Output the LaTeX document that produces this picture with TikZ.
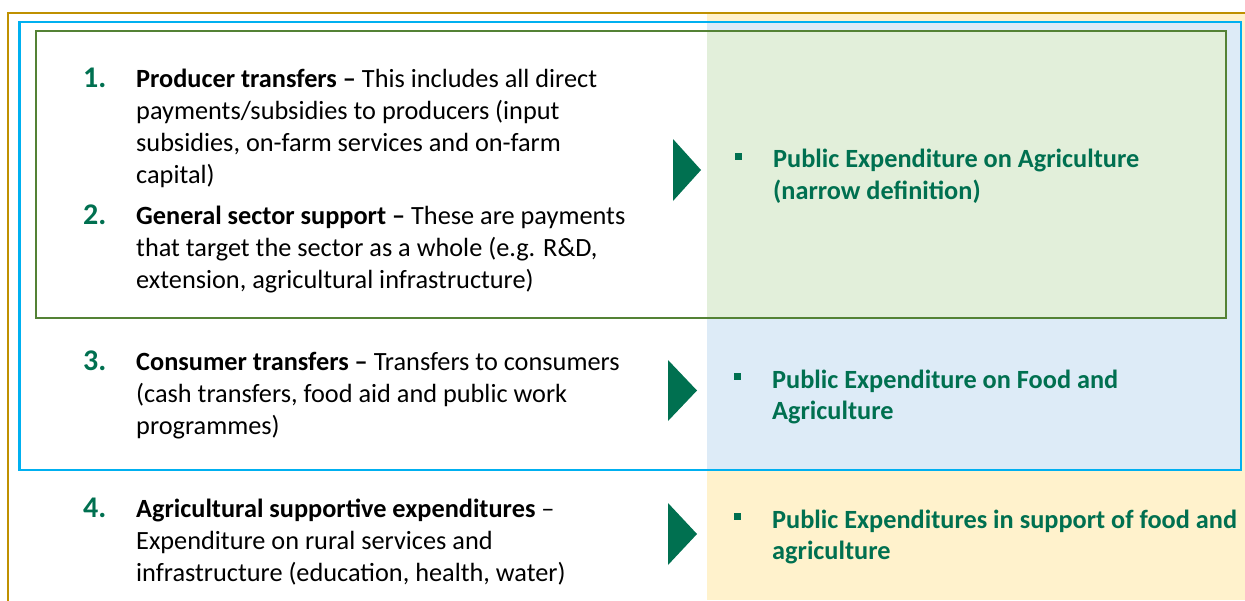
\documentclass[tikz,border=0pt]{standalone}
\usepackage{fontspec}
\setmainfont{Carlito}
\definecolor{goldline}{RGB}{191,144,0}
\definecolor{skyline}{RGB}{0,176,240}
\definecolor{leafline}{RGB}{84,130,53}
\definecolor{leaffill}{RGB}{226,239,218}
\definecolor{skyfill}{RGB}{221,235,247}
\definecolor{sandfill}{RGB}{255,242,204}
\definecolor{fao}{RGB}{0,112,80}
\begin{document}
\begin{tikzpicture}[x=1pt,y=-1pt,
  % multi-line nodes are placed by the baseline of their last line
  item/.style={anchor=base west, inner sep=0pt, align=left,
    font=\fontsize{26.3}{32}\selectfont, text=black},
  num/.style={anchor=base west, inner sep=0pt,
    font=\fontsize{30}{32}\selectfont\bfseries, text=fao},
  result/.style={anchor=base west, inner sep=0pt, align=left,
    font=\fontsize{26.3}{31.5}\selectfont\bfseries, text=fao},
  bulletbox/.style={fill=fao, minimum size=7pt, inner sep=0pt},
  pointer/.style={fill=fao}]
\useasboundingbox (0,0) rectangle (1245,600);

% tinted result column
\fill[sandfill] (707,14) rectangle (1245,600);
\fill[skyfill] (707,22) rectangle (1241,470);
\fill[leaffill] (707,31) rectangle (1226,318);

% nested frames
\draw[goldline, line width=2pt] (7.5,605) -- (7.5,13) -- (1250,13);
\draw[skyline, line width=2.8pt] (19.5,22) rectangle (1241,470);
\draw[leafline, line width=2.3pt] (36,31) rectangle (1226,318);

% numbered components
\node[num] (n1) at (83,87.5) {1.};
\node[num] (n2) at (83,224.5) {2.};
\node[num] (n3) at (83,370.5) {3.};
\node[num] (n4) at (83,517.5) {4.};

\node[item] (t1) at (136,183.5) {\textbf{Producer transfers –} This includes all direct\\
  payments/subsidies to producers (input\\
  subsidies, on-farm services and on-farm\\
  capital)};
\node[item] (t2) at (136,288.5) {\textbf{General sector support –} These are payments\\
  that target the sector as a whole (e.g. R\&D,\\
  extension, agricultural infrastructure)};
\node[item] (t3) at (136,434.5) {\textbf{Consumer transfers –} Transfers to consumers\\
  (cash transfers, food aid and public work\\
  programmes)};
\node[item] (t4) at (136,581.5) {\textbf{Agricultural supportive expenditures} –\\
  Expenditure on rural services and\\
  infrastructure (education, health, water)};

% pointers
\fill[pointer] (673,139) -- (673,201) -- (701,170) -- cycle;
\fill[pointer] (668,360) -- (668,421) -- (697,390.5) -- cycle;
\fill[pointer] (668,503) -- (668,565) -- (697,534) -- cycle;

% resulting definitions
\node[bulletbox] (b1) at (738.5,156.5) {};
\node[bulletbox] (b2) at (737,376.5) {};
\node[bulletbox] (b3) at (737,516) {};

\node[result] (r1) at (773,199) {Public Expenditure on Agriculture\\
  (narrow definition)};
\node[result] (r2) at (772,419.5) {Public Expenditure on Food and\\
  Agriculture};
\node[result] (r3) at (772,559.5) {Public Expenditures in support of food and\\
  agriculture};
\end{tikzpicture}
\end{document}
